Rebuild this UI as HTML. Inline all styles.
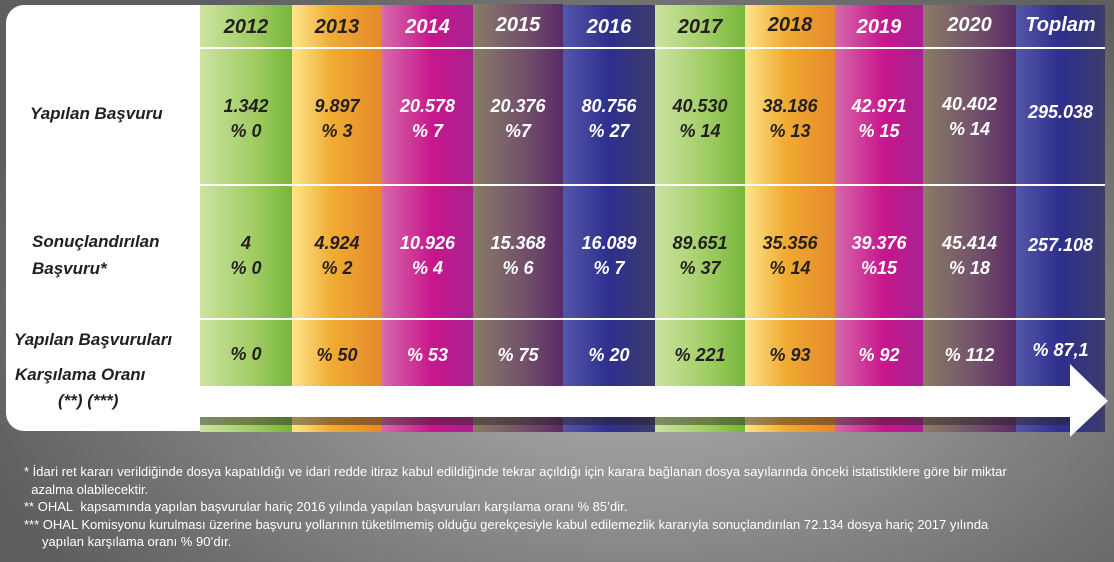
<!DOCTYPE html>
<html><head><meta charset="utf-8"><style>
body{margin:0;width:1114px;height:562px;overflow:hidden;position:relative;font-family:"Liberation Sans",sans-serif;
background:radial-gradient(ellipse 700px 420px at 640px 330px,#b2b2b2 0%,#8e8e8e 45%,#5e5e5e 100%);}
.panel{position:absolute;left:6px;top:5px;width:210px;height:426px;background:#fff;border-radius:18px;}
.col{position:absolute;top:5px;height:427px;}
.hl{position:absolute;left:200px;width:905px;height:2px;background:#fff;}
.t{position:absolute;font-weight:bold;font-style:italic;font-size:18px;text-align:center;line-height:25px;}
.d{color:#231f20}.w{color:#fff}
.lab{position:absolute;font-weight:bold;font-style:italic;font-size:17px;color:#231f20;}
.fn{position:absolute;left:24px;color:#fff;font-size:13px;line-height:17.5px;top:463px;white-space:nowrap;}
</style></head><body>
<div class="panel"></div>
<div class="col" style="left:200px;width:92px;background:linear-gradient(90deg,#cde3a2,#9fcc62 60%,#75b63a)"></div>
<div class="col" style="left:292px;width:90px;background:linear-gradient(90deg,#fde58c,#f0ab32 45%,#e4892a)"></div>
<div class="col" style="left:382px;width:91px;background:linear-gradient(90deg,#d56aaa,#c8168c 55%,#a82290)"></div>
<div class="col" style="left:473px;width:90px;top:4px;height:428px;background:linear-gradient(90deg,#8a7c66,#704e6a 60%,#5a2a66)"></div>
<div class="col" style="left:563px;width:92px;background:linear-gradient(90deg,#5456a8,#2e2f8e 50%,#3c3c6c)"></div>
<div class="col" style="left:655px;width:90px;background:linear-gradient(90deg,#cde3a2,#9fcc62 60%,#75b63a)"></div>
<div class="col" style="left:745px;width:90px;background:linear-gradient(90deg,#fde58c,#f0ab32 45%,#e4892a)"></div>
<div class="col" style="left:835px;width:88px;background:linear-gradient(90deg,#d56aaa,#c8168c 55%,#a82290)"></div>
<div class="col" style="left:923px;width:93px;background:linear-gradient(90deg,#8a7c66,#704e6a 60%,#5a2a66)"></div>
<div class="col" style="left:1016px;width:89px;background:linear-gradient(90deg,#5456a8,#2e2f8e 50%,#3c3c6c)"></div>
<div class="hl" style="top:47px"></div>
<div class="hl" style="top:184px"></div>
<div class="hl" style="top:318px"></div>
<div style="position:absolute;left:200px;top:417px;width:870px;height:8px;background:rgba(40,30,30,0.45)"></div>
<svg style="position:absolute;left:0;top:0" width="1114" height="562">
<polygon points="200,386 1070,386 1070,364 1108,401 1070,437 1070,417 200,417" fill="#fff"/>
</svg>
<div class="lab" style="left:30px;top:104px">Yapılan Başvuru</div>
<div class="lab" style="left:32px;top:232px">Sonuçlandırılan</div>
<div class="lab" style="left:32px;top:259px">Başvuru*</div>
<div class="lab" style="left:14px;top:330px">Yapılan Başvuruları</div>
<div class="lab" style="left:15px;top:365px">Karşılama Oranı</div>
<div class="lab" style="left:58px;top:391px">(**) (***)</div>

<div class="t d" style="left:200px;width:92px;top:15px;font-size:20px">2012</div>
<div class="t d" style="left:292px;width:90px;top:15px;font-size:20px">2013</div>
<div class="t w" style="left:382px;width:91px;top:15px;font-size:20px">2014</div>
<div class="t w" style="left:473px;width:90px;top:13px;font-size:20px">2015</div>
<div class="t w" style="left:563px;width:92px;top:15px;font-size:20px">2016</div>
<div class="t d" style="left:655px;width:90px;top:15px;font-size:20px">2017</div>
<div class="t d" style="left:745px;width:90px;top:13px;font-size:20px">2018</div>
<div class="t w" style="left:835px;width:88px;top:15px;font-size:20px">2019</div>
<div class="t w" style="left:923px;width:93px;top:13px;font-size:20px">2020</div>
<div class="t w" style="left:1016px;width:89px;top:13px;font-size:20px">Toplam</div>

<div class="t d" style="left:200px;width:92px;top:94px">1.342<br>% 0</div>
<div class="t d" style="left:292px;width:90px;top:94px">9.897<br>% 3</div>
<div class="t w" style="left:382px;width:91px;top:94px">20.578<br>% 7</div>
<div class="t w" style="left:473px;width:90px;top:94px">20.376<br>%7</div>
<div class="t w" style="left:563px;width:92px;top:94px">80.756<br>% 27</div>
<div class="t d" style="left:655px;width:90px;top:94px">40.530<br>% 14</div>
<div class="t d" style="left:745px;width:90px;top:94px">38.186<br>% 13</div>
<div class="t w" style="left:835px;width:88px;top:94px">42.971<br>% 15</div>
<div class="t w" style="left:923px;width:93px;top:92px">40.402<br>% 14</div>
<div class="t w" style="left:1016px;width:89px;top:100px">295.038</div>

<div class="t d" style="left:200px;width:92px;top:231px">4<br>% 0</div>
<div class="t d" style="left:292px;width:90px;top:231px">4.924<br>% 2</div>
<div class="t w" style="left:382px;width:91px;top:231px">10.926<br>% 4</div>
<div class="t w" style="left:473px;width:90px;top:231px">15.368<br>% 6</div>
<div class="t w" style="left:563px;width:92px;top:231px">16.089<br>% 7</div>
<div class="t d" style="left:655px;width:90px;top:231px">89.651<br>% 37</div>
<div class="t d" style="left:745px;width:90px;top:231px">35.356<br>% 14</div>
<div class="t w" style="left:835px;width:88px;top:231px">39.376<br>%15</div>
<div class="t w" style="left:923px;width:93px;top:231px">45.414<br>% 18</div>
<div class="t w" style="left:1016px;width:89px;top:233px">257.108</div>

<div class="t d" style="left:200px;width:92px;top:342px">% 0</div>
<div class="t d" style="left:292px;width:90px;top:343px">% 50</div>
<div class="t w" style="left:382px;width:91px;top:343px">% 53</div>
<div class="t w" style="left:473px;width:90px;top:343px">% 75</div>
<div class="t w" style="left:563px;width:92px;top:343px">% 20</div>
<div class="t d" style="left:655px;width:90px;top:343px">% 221</div>
<div class="t d" style="left:745px;width:90px;top:343px">% 93</div>
<div class="t w" style="left:835px;width:88px;top:343px">% 92</div>
<div class="t w" style="left:923px;width:93px;top:343px">% 112</div>
<div class="t w" style="left:1016px;width:89px;top:338px">% 87,1</div>

<div class="fn">* İdari ret kararı verildiğinde dosya kapatıldığı ve idari redde itiraz kabul edildiğinde tekrar açıldığı için karara bağlanan dosya sayılarında önceki istatistiklere göre bir miktar<br>
&nbsp;&nbsp;azalma olabilecektir.<br>
** OHAL&nbsp; kapsamında yapılan başvurular hariç 2016 yılında yapılan başvuruları karşılama oranı % 85’dir.<br>
*** OHAL Komisyonu kurulması üzerine başvuru yollarının tüketilmemiş olduğu gerekçesiyle kabul edilemezlik kararıyla sonuçlandırılan 72.134 dosya hariç 2017 yılında<br>
&nbsp;&nbsp;&nbsp;&nbsp;&nbsp;yapılan karşılama oranı % 90’dır.</div>
</body></html>
